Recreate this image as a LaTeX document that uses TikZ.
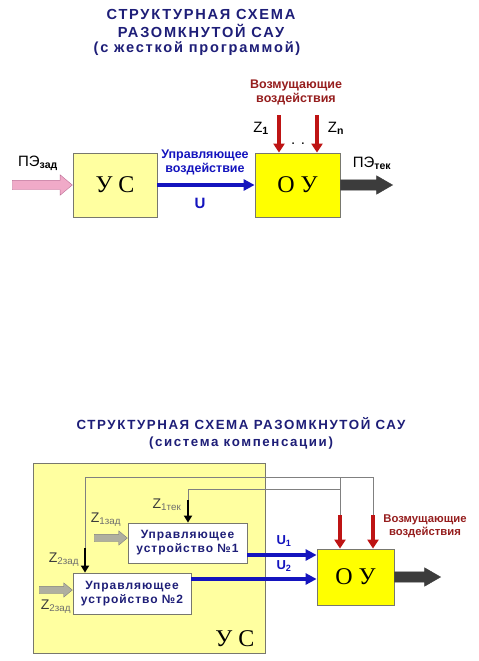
\documentclass[tikz,border=0pt]{standalone}
\usepackage{fontspec}
\setmainfont{Liberation Sans}
\newfontfamily\boxfont{Liberation Serif}
\newfontfamily\spacedfont[LetterSpace=12]{Liberation Sans}
\newfontfamily\tightfont[LetterSpace=8]{Liberation Sans}
\usetikzlibrary{shapes,arrows,arrows.meta}
\definecolor{titleblue}{RGB}{30,30,120}
\definecolor{ctrlblue}{RGB}{20,20,190}
\definecolor{distred}{RGB}{190,20,20}
\definecolor{disttext}{RGB}{150,30,30}
\definecolor{paleyellow}{RGB}{255,255,160}
\definecolor{brightyellow}{RGB}{255,255,0}
\definecolor{boxgray}{RGB}{120,120,110}
\definecolor{inpink}{RGB}{240,170,200}
\definecolor{inpinkdark}{RGB}{190,110,150}
\definecolor{outgray}{RGB}{60,60,60}
\definecolor{zgray}{RGB}{175,175,160}
\definecolor{zlabel}{RGB}{60,60,60}
\definecolor{zsub}{RGB}{110,110,110}
\tikzstyle{title} = [font={\spacedfont\bfseries\fontsize{14.6}{17}\selectfont}, text=titleblue, align=center]
\tikzstyle{subtitle} = [font={\spacedfont\bfseries\fontsize{13.3}{15}\selectfont}, text=titleblue, align=center]
\tikzstyle{palebox} = [rectangle, draw=boxgray, fill=paleyellow, thick, font={\boxfont\fontsize{24}{26}\selectfont}]
\tikzstyle{objbox} = [rectangle, draw=boxgray, fill=brightyellow, thick, font={\boxfont\fontsize{24}{26}\selectfont}]
\tikzstyle{ctrlbox} = [rectangle, draw=boxgray, fill=white, thick, align=center, text=titleblue, font={\tightfont\bfseries\fontsize{12}{14}\selectfont}]
\tikzstyle{ctrlarrow} = [line width=3.5pt, draw=ctrlblue, -{Triangle[length=11pt,width=11pt]}]
\tikzstyle{distarrow} = [line width=4pt, draw=distred, -{Triangle[length=9pt,width=11pt]}]
\tikzstyle{measarrow} = [line width=2.2pt, draw=black, -{Triangle[length=7pt,width=8pt]}]
\tikzstyle{thinline} = [draw=gray, line width=1pt]
\tikzstyle{inarrow} = [single arrow, draw=inpinkdark, fill=inpink, inner xsep=0pt, inner ysep=4.5pt, single arrow head extend=5.5pt, single arrow tip angle=80, anchor=tip]
\tikzstyle{zarrow} = [single arrow, draw=gray, fill=zgray, inner xsep=0pt, inner ysep=3.5pt, single arrow head extend=3.5pt, single arrow tip angle=80, anchor=tip]
\tikzstyle{outarrow} = [single arrow, draw=outgray, fill=outgray, inner xsep=0pt, inner ysep=5pt, single arrow head extend=4pt, single arrow tip angle=60, anchor=tail]
\tikzstyle{bluetext} = [text=ctrlblue, font={\bfseries\fontsize{12.5}{14}\selectfont}, align=center]
\tikzstyle{redtext} = [text=disttext, font={\bfseries\fontsize{12.5}{14}\selectfont}, align=center]
\tikzstyle{zbig} = [font={\fontsize{15}{17}\selectfont}]
\tikzstyle{zsmall} = [text=zlabel, font={\fontsize{14}{16}\selectfont}]

\begin{document}
\begin{tikzpicture}[x=1pt,y=-1pt]
        \useasboundingbox [fill=white] (0,0) rectangle (479,661);
        % open loop with a fixed program
        \node (title1) [title] at (201,14) {СТРУКТУРНАЯ СХЕМА};
        \node (title2) [title] at (201,31) {РАЗОМКНУТОЙ САУ};
        \node (title3) [title] at (197,49) {(с жесткой программой)};
        \node (us) [palebox, minimum width=84pt, minimum height=64pt] at (115,185) {У С};
        \node (ou) [objbox, minimum width=85pt, minimum height=64pt] at (297.5,185) {О У};
        \node (pein) [inarrow, minimum height=60pt] at (us.west) {};
        \node (peout) [outarrow, minimum height=52pt] at (ou.east) {};
        \node (pezad) [zbig] at (38,163) {ПЭ\textsubscript{\bfseries зад}};
        \node (petek) [zbig] at (372,163) {ПЭ\textsubscript{\bfseries тек}};
        \draw [ctrlarrow] (us.east) -- (ou.west);
        \node (ctrltext) [bluetext] at (205,162) {Управляющее\\воздействие};
        \node (u) [bluetext, font={\bfseries\fontsize{15}{17}\selectfont}] at (200,203) {U};
        \node (disttext) [redtext] at (296,92) {Возмущающие\\воздействия};
        \coordinate (zone) at (279,115);
        \coordinate (zn) at (317,115);
        \draw [distarrow] (zone) -- (zone |- ou.north);
        \draw [distarrow] (zn) -- (zn |- ou.north);
        \node (zonetext) [zbig] at (261,128) {Z\textsubscript{\bfseries 1}};
        \node (zntext) [zbig] at (336,128) {Z\textsubscript{\bfseries n}};
        \node (dots) [zbig] at (298,144) {. .};
        % compensation system
        \node (title4) [subtitle] at (241,424) {СТРУКТУРНАЯ СХЕМА РАЗОМКНУТОЙ САУ};
        \node (title5) [subtitle] at (241,443) {(система компенсации)};
        \node (usbig) [palebox, minimum width=232pt, minimum height=190pt, anchor=north west] at (33,463) {};
        \node (uslabel) [font={\boxfont\fontsize{24}{26}\selectfont}, anchor=south east] at ([xshift=-8pt,yshift=4pt]usbig.south east) {У С};
        \node (uu1) [ctrlbox, minimum width=119pt, minimum height=40pt] at (187.5,543) {Управляющее\\устройство №1};
        \node (uu2) [ctrlbox, minimum width=118pt, minimum height=41pt] at (132,593.5) {Управляющее\\устройство №2};
        \node (ou2) [objbox, minimum width=77pt, minimum height=56pt] at (355.5,577) {О У};
        \node (out2) [outarrow, minimum height=46pt] at (ou2.east) {};
        \coordinate (fbtwo) at (85,477);
        \coordinate (fbone) at (188,489);
        \coordinate (dtwo) at (373,477);
        \coordinate (done) at (340,477);
        \draw [thinline] (fbtwo) -- (dtwo) -- ++(0,38);
        \draw [thinline] (fbone) -- (done |- fbone);
        \draw [thinline] (done) -- ++(0,38);
        \draw [thinline] (fbtwo) -- ++(0,71);
        \draw [thinline] (fbone) -- ++(0,11);
        \draw [measarrow] ([yshift=-71pt]fbtwo) -- (fbtwo |- uu2.north);
        \draw [measarrow] ([yshift=-11pt]fbone) -- (fbone |- uu1.north);
        \draw [distarrow] ([yshift=-38pt]done) -- (done |- ou2.north);
        \draw [distarrow] ([yshift=-38pt]dtwo) -- (dtwo |- ou2.north);
        \node (disttext2) [redtext, font={\bfseries\fontsize{11.3}{12.5}\selectfont}] at (425,526) {Возмущающие\\воздействия};
        \node (zonein) [zarrow, minimum height=33pt] at (uu1.west |- 0,538) {};
        \node (ztwoin) [zarrow, minimum height=33pt] at (uu2.west |- 0,590) {};
        \node (zonezad) [zsmall] at (106,520) {Z\textsubscript{\color{zsub}1зад}};
        \node (zonetek) [zsmall] at (167,505) {Z\textsubscript{\color{zsub}1тек}};
        \node (ztwozad) [zsmall] at (64,560) {Z\textsubscript{\color{zsub}2зад}};
        \node (ztwozadb) [zsmall] at (56,607) {Z\textsubscript{\color{zsub}2зад}};
        \draw [ctrlarrow] ([yshift=-12pt]uu1.east) -- ([yshift=-12pt]uu1.east -| ou2.west);
        \draw [ctrlarrow] ([yshift=14.5pt]uu2.east) -- ([yshift=14.5pt]uu2.east -| ou2.west);
        \node (uone) [bluetext, font={\bfseries\fontsize{13}{15}\selectfont}] at (284,541) {U\textsubscript{1}};
        \node (utwo) [bluetext, font={\bfseries\fontsize{13}{15}\selectfont}] at (284,566) {U\textsubscript{2}};
\end{tikzpicture}
\end{document}
